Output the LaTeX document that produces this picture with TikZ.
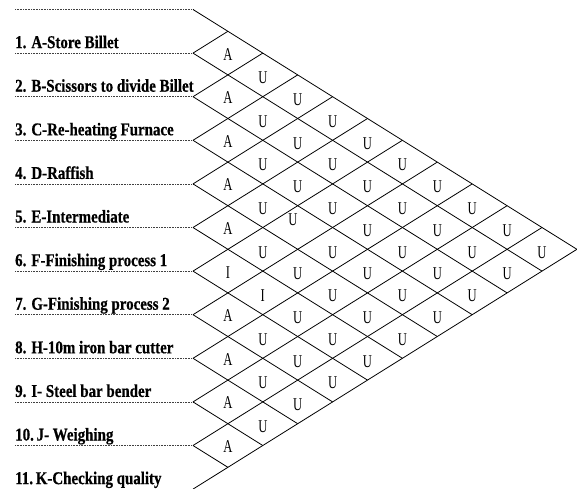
\documentclass[tikz,border=0pt]{standalone}
\usepackage{fontspec}
\setmainfont{Liberation Serif}
\newfontfamily\labfont[FakeStretch=0.83,BoldFeatures={FakeBold=0.6}]{Liberation Serif}
\newfontfamily\relfont[FakeStretch=0.7]{Liberation Serif}
\begin{document}
\begin{tikzpicture}[x=1pt,y=-1pt,
  grid/.style={line width=0.8pt},
  guide/.style={densely dotted, line width=0.6pt, black!75},
  lab/.style={anchor=base west, inner sep=0pt, font=\labfont\bfseries\fontsize{18}{21}\selectfont},
  rel/.style={inner sep=0pt, font=\relfont\fontsize{18}{21}\selectfont}]
\useasboundingbox (0,0) rectangle (577,488);
\def\xo{193}\def\yo{9.5}\def\dx{34.9}\def\dy{21.8}
% guide lines
\foreach \k in {0,...,10}
  \draw[guide] (15,{\yo+2*\dy*\k}) -- (\xo,{\yo+2*\dy*\k});
% grid: down-right lines
\foreach \k in {0,...,10}
  \draw[grid] (\xo,{\yo+2*\dy*\k}) -- ({\xo+(11-\k)*\dx},{\yo+2*\dy*\k+(11-\k)*\dy});
% grid: up-right lines
\foreach \k in {1,...,11}
  \draw[grid] (\xo,{\yo+2*\dy*\k}) -- ({\xo+\k*\dx},{\yo+2*\dy*\k-\k*\dy});
% labels
\foreach \k/\t in {1/{1. A-Store Billet},2/{2. B-Scissors to divide Billet},3/{3. C-Re-heating Furnace},4/{4. D-Raffish},5/{5. E-Intermediate},6/{6. F-Finishing process 1},7/{7. G-Finishing process 2},8/{8. H-10m iron bar cutter},9/{9. I- Steel bar bender},10/{10.\kern-1pt\ J- Weighing},11/{11.\kern-1pt\ K-Checking quality}}
  \node[lab] (l\k) at (15,{\yo+2*\dy*\k-5}) {\t};
% column 1
\foreach \i/\L in {1/A,2/A,3/A,4/A,5/A,6/I,7/A,8/A,9/A,10/A}
  \node[rel] (r\i-1) at ({\xo+\dx},{\yo+\dy*(2*\i)+1}) {\L};
% column 2
\foreach \i/\L in {1/U,2/U,3/U,4/U,5/U,6/I,7/U,8/U,9/U}
  \node[rel] (r\i-2) at ({\xo+2*\dx},{\yo+\dy*(2*\i+1)+3}) {\L};
% columns 3..10
\foreach \c in {3,...,10}{
  \pgfmathtruncatemacro{\nmax}{11-\c}
  \foreach \i in {1,...,\nmax}{
    \pgfmathtruncatemacro{\isskip}{(\c==3)&&(\i==4)}
    \ifnum\isskip=0
      \node[rel] (r\i-\c) at ({\xo+\c*\dx},{\yo+\dy*(2*\i+\c-1)+3}) {U};
    \fi
  }
}
\node[rel] (r4-3) at (293,220) {U};
\end{tikzpicture}
\end{document}
